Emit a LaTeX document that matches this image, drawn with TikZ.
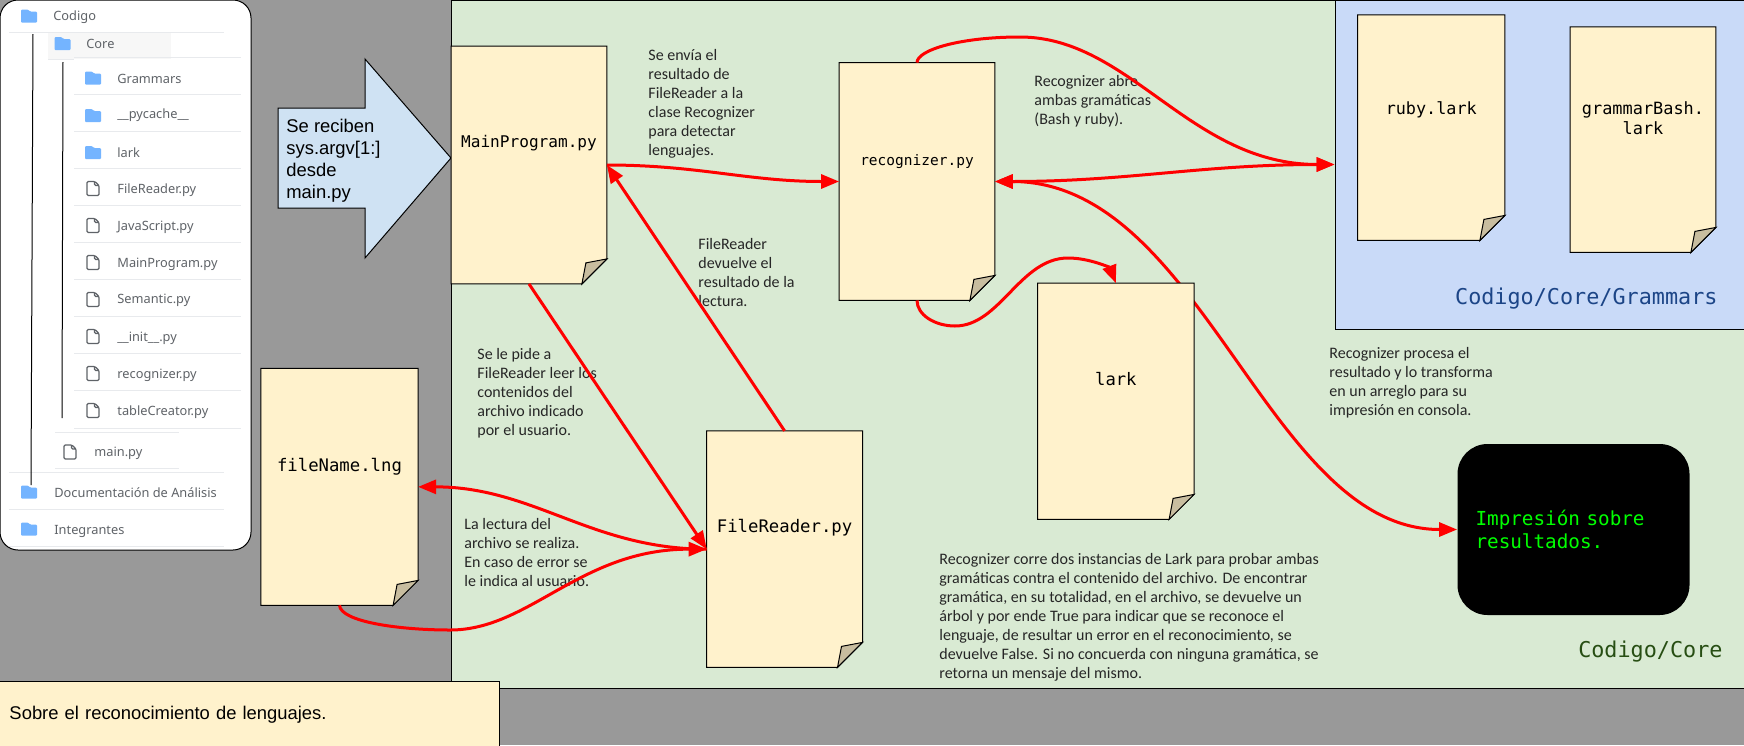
\documentclass[tikz,border=0pt]{standalone}
\usepackage{fontspec}
\setmainfont{Carlito}
\setmonofont{DejaVu Sans Mono}
\newfontfamily\arialFont{Liberation Sans}
\newfontfamily\treeFont{Noto Sans}
\usetikzlibrary{arrows.meta}
\usetikzlibrary{shapes}
\definecolor{pageGray}{HTML}{999999}
\definecolor{coreFill}{HTML}{D9EAD3}
\definecolor{grammarFill}{HTML}{C9DAF8}
\definecolor{docFill}{HTML}{FFF2CC}
\definecolor{foldFill}{HTML}{C8BD9F}
\definecolor{arrowFill}{HTML}{CFE2F3}
\definecolor{treeText}{HTML}{5F6368}
\definecolor{treeRule}{HTML}{E8EAED}
\definecolor{treeBlue}{HTML}{74B4FF}
\definecolor{coreText}{HTML}{274E13}
\definecolor{grammarText}{HTML}{1C4587}

\begin{document}
\begin{tikzpicture}[x = 0.5pt, y = -0.5pt]
	\tikzstyle{docStyle} = [shape = rectangle, inner sep = 0pt, align = center, append after command = {\pgfextra{
		\draw[fill = docFill, line width = 0.5pt] (\tikzlastnode.north west) -- (\tikzlastnode.north east) -- ([yshift = 12.5pt]\tikzlastnode.south east) -- ([xshift = -12.5pt]\tikzlastnode.south east) -- (\tikzlastnode.south west) -- cycle;
		\draw[fill = foldFill, line width = 0.5pt] ([xshift = -12.5pt]\tikzlastnode.south east) -- ([xshift = -10.5pt, yshift = 10.5pt]\tikzlastnode.south east) -- ([yshift = 12.5pt]\tikzlastnode.south east) -- cycle;
	}}]
	\tikzstyle{panelStyle} = [shape = rectangle, draw, line width = 0.5pt, inner sep = 0pt]
	\tikzstyle{noteStyle} = [anchor = north west, inner sep = 0pt, align = left, text = black!85, font = \fontsize{8}{9.5}\selectfont]
	\tikzstyle{treeStyle} = [anchor = west, inner sep = 0pt, text = treeText, font = \treeFont\fontsize{6.4}{7.5}\selectfont]
	\tikzstyle{ruleStyle} = [treeRule, line width = 0.5pt]
	\tikzstyle{treeLine} = [black, line width = 0.5pt]
	\tikzstyle{flowStyle} = [red, line width = 1.5pt, >={Triangle[length = 9pt, width = 7pt]}]
	\tikzset{folderPic/.pic = {\fill[treeBlue, rounded corners = 0.5pt] (-8, -6.5) -- (-1, -6.5) -- (1, -4.5) -- (8, -4.5) -- (8, 6.5) -- (-8, 6.5) -- cycle;}}
	\tikzset{filePic/.pic = {\draw[treeText, line width = 0.6pt, rounded corners = 0.6pt] (-6, -7) -- (2, -7) -- (6, -3) -- (6, 7) -- (-6, 7) -- cycle (1.5, -7) -- (1.5, -3) -- (6, -3);}}

	\useasboundingbox (0, 0) rectangle (1744, 745);
	\fill[pageGray] (0, 0) rectangle (1744, 745);

	\node[panelStyle, fill = white, rounded corners = 9pt, minimum width = 125.5pt, minimum height = 275pt] (treePanel) at (125.5, 275) {};
	\fill[black!3] (48, 32) rectangle (171, 59);
	\draw[ruleStyle] (9, 32) -- (224, 32);
	\draw[ruleStyle] (48, 59.5) -- (74, 59.5);
	\draw[ruleStyle] (74, 57) -- (241, 57);
	\draw[ruleStyle] (74, 94.5) -- (241, 94.5);
	\draw[ruleStyle] (74, 131.5) -- (241, 131.5);
	\draw[ruleStyle] (74, 168.5) -- (241, 168.5);
	\draw[ruleStyle] (74, 205.5) -- (241, 205.5);
	\draw[ruleStyle] (74, 242.5) -- (241, 242.5);
	\draw[ruleStyle] (74, 279.5) -- (241, 279.5);
	\draw[ruleStyle] (74, 316) -- (241, 316);
	\draw[ruleStyle] (74, 353) -- (241, 353);
	\draw[ruleStyle] (74, 390) -- (241, 390);
	\draw[ruleStyle] (74, 428) -- (241, 428);
	\draw[ruleStyle] (55, 432) -- (179, 432);
	\draw[ruleStyle] (55, 468) -- (179, 468);
	\draw[ruleStyle] (9, 472) -- (224, 472);
	\draw[ruleStyle] (9, 509) -- (224, 509);
	\draw[ruleStyle] (9, 546) -- (224, 546);
	\draw[treeLine] (33, 34) -- (31, 485);
	\draw[treeLine] (63, 62) -- (62, 418);

	\pic at (29, 16) {folderPic};
	\pic at (62.5, 43.5) {folderPic};
	\pic at (93, 78) {folderPic};
	\pic at (93, 115.5) {folderPic};
	\pic at (93, 152.5) {folderPic};
	\pic at (93, 188.5) {filePic};
	\pic at (93, 225.5) {filePic};
	\pic at (93, 262.5) {filePic};
	\pic at (93, 299.5) {filePic};
	\pic at (93, 336.5) {filePic};
	\pic at (93, 373.5) {filePic};
	\pic at (93, 410.5) {filePic};
	\pic at (70, 452) {filePic};
	\pic at (29, 492) {folderPic};
	\pic at (29, 529) {folderPic};
	\node[treeStyle] (treeCodigo) at (53, 17) {Codigo};
	\node[treeStyle] (treeCore) at (86, 43.5) {Core};
	\node[treeStyle] (treeGrammars) at (117, 78.5) {Grammars};
	\node[treeStyle] (treePycache) at (117, 115.5) {\_\_pycache\_\_};
	\node[treeStyle] (treeLark) at (117, 153) {lark};
	\node[treeStyle] (treeFileReader) at (117, 190) {FileReader.py};
	\node[treeStyle] (treeJavaScript) at (117, 227) {JavaScript.py};
	\node[treeStyle] (treeMainProgram) at (117, 264) {MainProgram.py};
	\node[treeStyle] (treeSemantic) at (117, 300.5) {Semantic.py};
	\node[treeStyle] (treeInit) at (117, 338) {\_\_init\_\_.py};
	\node[treeStyle] (treeRecognizer) at (117, 375) {recognizer.py};
	\node[treeStyle] (treeTableCreator) at (117, 412) {tableCreator.py};
	\node[treeStyle] (treeMain) at (94, 453) {main.py};
	\node[treeStyle] (treeDocs) at (54, 493) {Documentación de Análisis};
	\node[treeStyle] (treeMembers) at (54, 531) {Integrantes};

	\draw[fill = arrowFill, line width = 0.5pt] (278, 108) -- (365, 108) -- (365, 59) -- (451, 158) -- (365, 258) -- (365, 208) -- (278, 208) -- cycle;
	\node[anchor = north west, inner sep = 0pt, align = left, font = \arialFont\fontsize{9.2}{11}\selectfont] (inputText) at (286, 119) {Se reciben\\sys.argv[1:]\\desde\\main.py};

	\node[panelStyle, fill = coreFill, minimum width = 648pt, minimum height = 344pt] (corePanel) at (1099.5, 344) {};
	\node[panelStyle, fill = grammarFill, minimum width = 206pt, minimum height = 164.5pt] (grammarPanel) at (1541, 164.5) {};
	\node[anchor = east, inner sep = 0pt, text = coreText, font = \ttfamily\fontsize{10.9}{13}\selectfont] (coreTitle) at (1723, 652) {Codigo/Core};
	\node[anchor = east, inner sep = 0pt, text = grammarText, font = \ttfamily\fontsize{10.9}{13}\selectfont] (grammarTitle) at (1718, 299) {Codigo/Core/Grammars};

	\node[docStyle, minimum width = 77.5pt, text height = 50.25pt, text depth = 68.25pt, font = \ttfamily\fontsize{8.05}{10}\selectfont] (mainProgram) at (529, 165) {MainProgram.py};
	\node[docStyle, minimum width = 77.5pt, text height = 51pt, text depth = 67.5pt, font = \ttfamily\fontsize{7.25}{9}\selectfont] (recognizer) at (917, 181.5) {recognizer.py};
	\node[shape = rectangle, fill = black, rounded corners = 15pt, minimum height = 85.5pt, text width = 98pt, inner xsep = 9pt, inner ysep = 0pt, align = left, text = green, font = \ttfamily\fontsize{9.65}{11.25}\selectfont] (outputBox) at (1573.5, 529.5) {Impresión sobre\\resultados.};

	\draw[flowStyle, <->] (recognizer.east) to[out = 0, in = 180, out looseness = 0.92, in looseness = 0.84] (outputBox.west);

	\node[docStyle, minimum width = 77.85pt, text height = 50.75pt, text depth = 67pt, font = \ttfamily\fontsize{8.6}{10}\selectfont] (lark) at (1115.85, 401.25) {lark};
	\node[docStyle, minimum width = 78.2pt, text height = 51.15pt, text depth = 67pt, font = \ttfamily\fontsize{8.65}{10}\selectfont] (fileName) at (339.5, 486.85) {fileName.lng};
	\node[docStyle, minimum width = 77.5pt, text height = 50.4pt, text depth = 67.45pt, font = \ttfamily\fontsize{8.65}{10}\selectfont] (fileReader) at (784.6, 549.15) {FileReader.py};
	\node[docStyle, minimum width = 73.25pt, text height = 49.5pt, text depth = 62.85pt, font = \ttfamily\fontsize{8.4}{10}\selectfont] (rubyLark) at (1431.25, 127.65) {ruby.lark};
	\node[docStyle, minimum width = 72.5pt, text height = 53.6pt, text depth = 58.75pt, font = \ttfamily\fontsize{8.45}{10}\selectfont] (grammarBash) at (1643, 139.65) {grammarBash.\\lark};

	\node[noteStyle] (sendNote) at (648, 49) {Se envía el\\resultado de\\FileReader a la\\clase Recognizer\\para detectar\\lenguajes.};
	\node[noteStyle] (returnNote) at (698, 238) {FileReader\\devuelve el\\resultado de la\\lectura.};
	\node[noteStyle] (openNote) at (1034, 75) {Recognizer abre\\ambas gramáticas\\(Bash y ruby).};
	\node[noteStyle] (askNote) at (477, 348) {Se le pide a\\FileReader leer los\\contenidos del\\archivo indicado\\por el usuario.};
	\node[noteStyle] (readNote) at (464, 518) {La lectura del\\archivo se realiza.\\En caso de error se\\le indica al usuario.};
	\node[noteStyle] (processNote) at (1329, 347) {Recognizer procesa el\\resultado y lo transforma\\en un arreglo para su\\impresión en consola.};
	\node[noteStyle] (larkNote) at (939, 553) {Recognizer corre dos instancias de Lark para probar ambas\\gramáticas contra el contenido del archivo. De encontrar\\gramática, en su totalidad, en el archivo, se devuelve un\\árbol y por ende True para indicar que se reconoce el\\lenguaje, de resultar un error en el reconocimiento, se\\devuelve False. Si no concuerda con ninguna gramática, se\\retorna un mensaje del mismo.};

	\draw[flowStyle, ->] (mainProgram.east) to[out = 0, in = 180] (recognizer.west);
	\draw[flowStyle, ->] (fileReader.north) -- (mainProgram.east);
	\draw[flowStyle, ->] (mainProgram.south) -- (fileReader.west);
	\draw[flowStyle, ->] (fileReader.west) to[out = 180, in = 0] (fileName.east);
	\draw[flowStyle, ->] (fileName.south) .. controls (341, 622) and (400, 630) .. (450, 630) .. controls (530, 630) and (580, 549) .. (fileReader.west);
	\draw[flowStyle, ->] (recognizer.south) .. controls (917, 315) and (935, 326) .. (955, 326) .. controls (1000, 326) and (1020, 258) .. (1068, 258) .. controls (1090, 258) and (1110, 268) .. (lark.north);
	\draw[flowStyle, ->] (recognizer.north) .. controls (917, 50) and (960, 37) .. (1020, 37) .. controls (1130, 37) and (1190, 164.5) .. (grammarPanel.west);
	\draw[flowStyle, <->] (recognizer.east) to[out = 0, in = 180] (grammarPanel.west);

	\node[shape = rectangle, draw, line width = 0.5pt, fill = docFill, anchor = north west, minimum width = 250pt, minimum height = 33pt, inner xsep = 5pt, inner ysep = 0pt, text width = 240pt, align = left, font = \arialFont\fontsize{9.2}{11}\selectfont] (topicNote) at (-1, 681) {Sobre el reconocimiento de lenguajes.};
\end{tikzpicture}
\end{document}
